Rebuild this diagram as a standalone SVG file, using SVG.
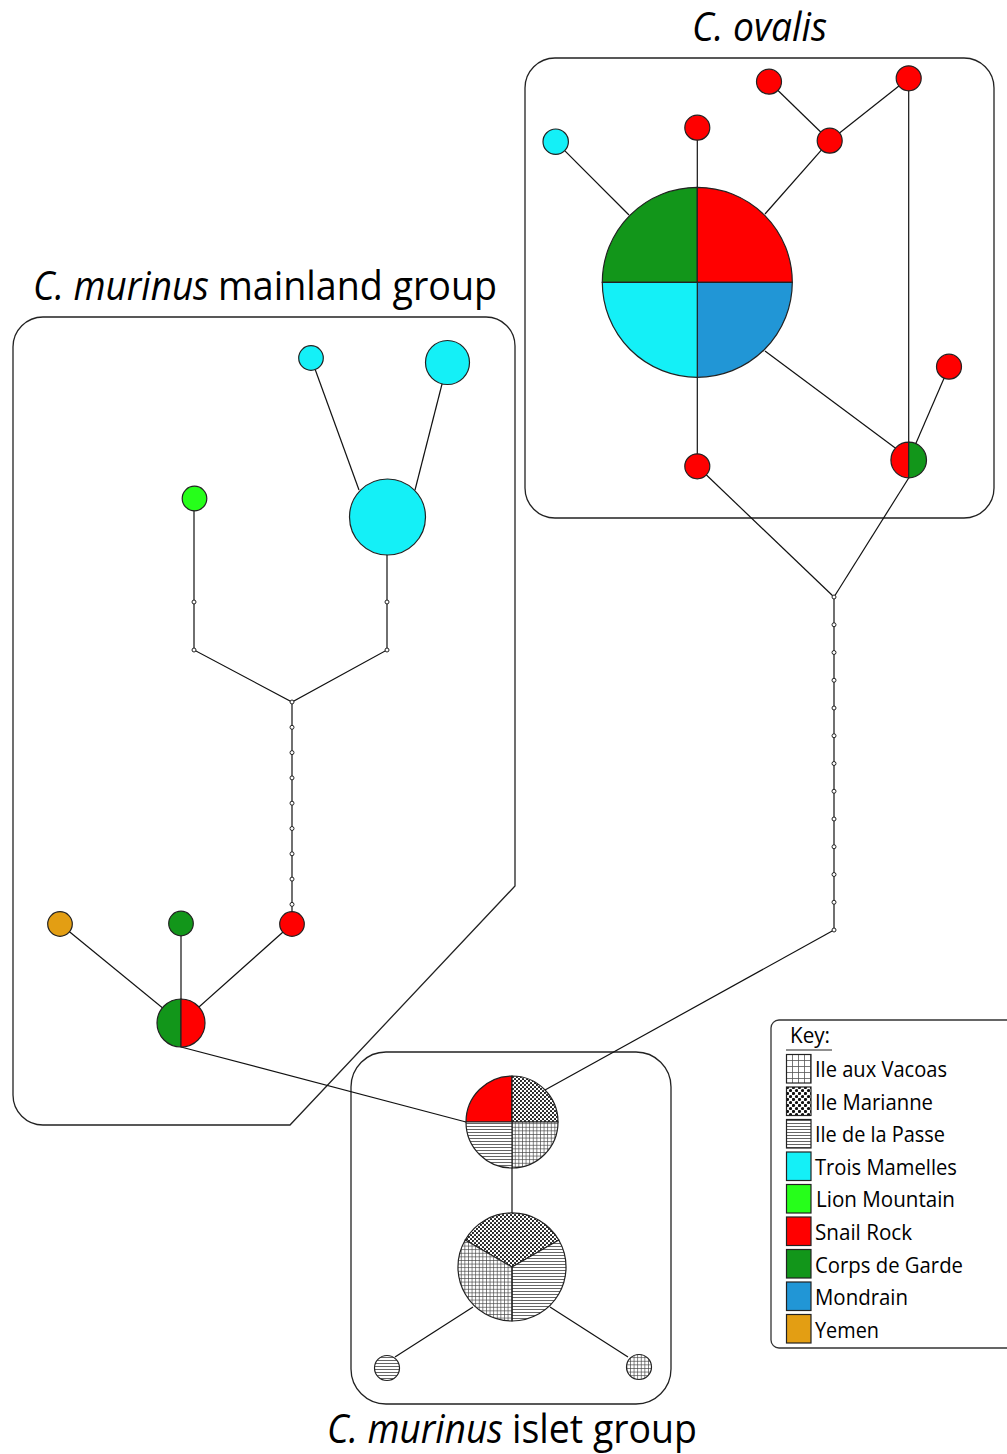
<svg xmlns="http://www.w3.org/2000/svg" width="1007" height="1454" viewBox="0 0 1007 1454">
  <style>
    .frame { fill: none; stroke: #222; stroke-width: 1.3; }
    .link { stroke: #111; stroke-width: 1.2; fill: none; }
    .node { stroke: #222; stroke-width: 1.2; }
    .med { fill: #fff; stroke: #222; stroke-width: 1; }
    .title { font-family: "Open Sans", "Noto Sans", "DejaVu Sans", sans-serif; font-size: 40px; fill: #000; }
    .it { font-style: italic; }
    .key { font-family: "Open Sans", "Noto Sans", "DejaVu Sans", sans-serif; font-size: 22px; fill: #000; }
    .sw { stroke: #222; stroke-width: 1.2; }
    .cyan { fill: #14F0F7; }
    .lime { fill: #26FF1A; }
    .red { fill: #FF0000; }
    .green { fill: #12961A; }
    .blue { fill: #2196D6; }
    .amber { fill: #E39E13; }
  </style>
  <defs>
    <!-- Ile aux Vacoas: fine grid -->
    <pattern id="grid" width="3.6" height="3.6" patternUnits="userSpaceOnUse">
      <rect width="3.6" height="3.6" fill="#fff"/>
      <path d="M0 0.4H3.6M0.4 0V3.6" stroke="#444" stroke-width="0.7"/>
    </pattern>
    <pattern id="gridKey" width="6" height="6" patternUnits="userSpaceOnUse" x="786" y="1054">
      <rect width="6" height="6" fill="#fff"/>
      <path d="M0 0.5H6M0.5 0V6" stroke="#555" stroke-width="0.8"/>
    </pattern>
    <!-- Ile Marianne: staggered dots -->
    <pattern id="dots" width="4" height="4" patternUnits="userSpaceOnUse">
      <rect width="4" height="4" fill="#fff"/>
      <circle cx="1" cy="1" r="1.05" fill="#111"/>
      <circle cx="3" cy="3" r="1.05" fill="#111"/>
    </pattern>
    <pattern id="dotsKey" width="6" height="6" patternUnits="userSpaceOnUse" x="786" y="1086">
      <rect width="6" height="6" fill="#fff"/>
      <circle cx="1.5" cy="1.5" r="1.6" fill="#111"/>
      <circle cx="4.5" cy="4.5" r="1.6" fill="#111"/>
    </pattern>
    <!-- Ile de la Passe: horizontal hatching -->
    <pattern id="lines" width="4" height="3" patternUnits="userSpaceOnUse">
      <rect width="4" height="3" fill="#fff"/>
      <path d="M0 1.5H4" stroke="#555" stroke-width="0.9"/>
    </pattern>
  </defs>

  <!-- group frames -->
  <g id="frames">
    <rect class="frame" x="525" y="58" width="469" height="460" rx="30"/>
    <path class="frame" d="M43 317H486A29 29 0 0 1 515 346V886L290 1125H43A30 30 0 0 1 13 1095V347A30 30 0 0 1 43 317Z"/>
    <rect class="frame" x="351" y="1052" width="320" height="352" rx="35"/>
  </g>

  <!-- titles -->
  <g id="titles">
    <text class="title it" x="692" y="41" textLength="135" lengthAdjust="spacingAndGlyphs">C. ovalis</text>
    <text class="title it" x="33" y="300" textLength="176" lengthAdjust="spacingAndGlyphs">C. murinus</text>
    <text class="title" x="218" y="300" textLength="279" lengthAdjust="spacingAndGlyphs">mainland group</text>
    <text class="title it" x="327" y="1443" textLength="176" lengthAdjust="spacingAndGlyphs">C. murinus</text>
    <text class="title" x="512" y="1443" textLength="185" lengthAdjust="spacingAndGlyphs">islet group</text>
  </g>

  <!-- connectors -->
  <g id="connectors">
    <!-- C. ovalis -->
    <line class="link" x1="555.7" y1="141.7" x2="629" y2="215"/>
    <line class="link" x1="697.3" y1="127.7" x2="697.3" y2="190"/>
    <line class="link" x1="769" y1="81.7" x2="829.7" y2="140.7"/>
    <line class="link" x1="908.7" y1="78.3" x2="829.7" y2="140.7"/>
    <line class="link" x1="829.7" y1="140.7" x2="765" y2="214"/>
    <line class="link" x1="908.7" y1="78.3" x2="908.7" y2="460"/>
    <line class="link" x1="765" y1="351" x2="908.7" y2="458"/>
    <line class="link" x1="949" y1="366.7" x2="908.7" y2="460"/>
    <line class="link" x1="697.3" y1="377" x2="697.3" y2="466.3"/>
    <line class="link" x1="697.3" y1="466.3" x2="834" y2="597"/>
    <line class="link" x1="908.7" y1="478" x2="834" y2="597"/>
    <line class="link" x1="834" y1="597" x2="834" y2="930"/>
    <line class="link" x1="834" y1="930" x2="545" y2="1090"/>
    <!-- mainland -->
    <line class="link" x1="311" y1="358" x2="359" y2="490"/>
    <line class="link" x1="447.5" y1="362.5" x2="415" y2="490"/>
    <polyline class="link" points="194,498 194,650 292,702 387,650 387,517"/>
    <line class="link" x1="292" y1="702" x2="292" y2="924"/>
    <line class="link" x1="60" y1="924" x2="181" y2="1023"/>
    <line class="link" x1="181" y1="923" x2="181" y2="1023"/>
    <line class="link" x1="292" y1="924" x2="181" y2="1023"/>
    <line class="link" x1="181" y1="1047" x2="466" y2="1122"/>
    <!-- islet -->
    <line class="link" x1="512" y1="1122" x2="512" y2="1267"/>
    <line class="link" x1="395" y1="1357" x2="473" y2="1307"/>
    <line class="link" x1="550" y1="1307" x2="628" y2="1357"/>
  </g>

  <!-- inferred (unsampled) haplotypes along the branches -->
  <g id="median-vectors">
    <circle class="med" cx="194" cy="602" r="2"/>
    <circle class="med" cx="194" cy="650" r="2"/>
    <circle class="med" cx="387" cy="602" r="2"/>
    <circle class="med" cx="387" cy="650" r="2"/>
    <circle class="med" cx="292" cy="702" r="2"/>
    <circle class="med" cx="292" cy="727.3" r="2"/>
    <circle class="med" cx="292" cy="752.6" r="2"/>
    <circle class="med" cx="292" cy="777.9" r="2"/>
    <circle class="med" cx="292" cy="803.2" r="2"/>
    <circle class="med" cx="292" cy="828.5" r="2"/>
    <circle class="med" cx="292" cy="853.8" r="2"/>
    <circle class="med" cx="292" cy="879.1" r="2"/>
    <circle class="med" cx="292" cy="904.4" r="2"/>
    <circle class="med" cx="834" cy="597" r="2"/>
    <circle class="med" cx="834" cy="624.75" r="2"/>
    <circle class="med" cx="834" cy="652.5" r="2"/>
    <circle class="med" cx="834" cy="680.25" r="2"/>
    <circle class="med" cx="834" cy="708" r="2"/>
    <circle class="med" cx="834" cy="735.75" r="2"/>
    <circle class="med" cx="834" cy="763.5" r="2"/>
    <circle class="med" cx="834" cy="791.25" r="2"/>
    <circle class="med" cx="834" cy="819" r="2"/>
    <circle class="med" cx="834" cy="846.75" r="2"/>
    <circle class="med" cx="834" cy="874.5" r="2"/>
    <circle class="med" cx="834" cy="902.25" r="2"/>
    <circle class="med" cx="834" cy="930" r="2"/>
  </g>

  <!-- C. ovalis haplotypes -->
  <g id="ov-main" class="node">
    <path class="green" d="M697.3 282.3H602.3A95 95 0 0 1 697.3 187.3Z"/>
    <path class="red" d="M697.3 282.3V187.3A95 95 0 0 1 792.3 282.3Z"/>
    <path class="blue" d="M697.3 282.3H792.3A95 95 0 0 1 697.3 377.3Z"/>
    <path class="cyan" d="M697.3 282.3V377.3A95 95 0 0 1 602.3 282.3Z"/>
  </g>
  <circle id="ov-cyan" class="node cyan" cx="555.7" cy="141.7" r="12.7"/>
  <circle id="ov-red-top" class="node red" cx="697.3" cy="127.7" r="12.5"/>
  <circle id="ov-red-a" class="node red" cx="769" cy="81.7" r="12.5"/>
  <circle id="ov-red-b" class="node red" cx="908.7" cy="78.3" r="12.5"/>
  <circle id="ov-red-c" class="node red" cx="829.7" cy="140.7" r="12.5"/>
  <circle id="ov-red-bottom" class="node red" cx="697.3" cy="466.3" r="12.5"/>
  <circle id="ov-red-right" class="node red" cx="949" cy="366.7" r="12.5"/>
  <g id="ov-mixed" class="node">
    <path class="red" d="M908.7 442.2V477.8A17.8 17.8 0 0 1 908.7 442.2Z"/>
    <path class="green" d="M908.7 442.2A17.8 17.8 0 0 1 908.7 477.8Z"/>
  </g>

  <!-- C. murinus mainland haplotypes -->
  <circle id="ml-cyan-s" class="node cyan" cx="311" cy="358" r="12.3"/>
  <circle id="ml-cyan-m" class="node cyan" cx="447.5" cy="362.5" r="22"/>
  <circle id="ml-cyan-l" class="node cyan" cx="387.5" cy="517" r="38"/>
  <circle id="ml-lime" class="node lime" cx="194.5" cy="498.5" r="12.3"/>
  <circle id="ml-amber" class="node amber" cx="60" cy="924" r="12.3"/>
  <circle id="ml-green" class="node green" cx="181" cy="923.5" r="12.3"/>
  <circle id="ml-red" class="node red" cx="292" cy="924" r="12.3"/>
  <g id="ml-mixed" class="node">
    <path class="green" d="M181 999V1047A24 24 0 0 1 181 999Z"/>
    <path class="red" d="M181 999A24 24 0 0 1 181 1047Z"/>
  </g>

  <!-- C. murinus islet haplotypes -->
  <g id="is-top" class="node">
    <path class="red" d="M512 1122H466A46 46 0 0 1 512 1076Z"/>
    <path fill="url(#dots)" d="M512 1122V1076A46 46 0 0 1 558 1122Z"/>
    <path fill="url(#grid)" d="M512 1122H558A46 46 0 0 1 512 1168Z"/>
    <path fill="url(#lines)" d="M512 1122V1168A46 46 0 0 1 466 1122Z"/>
  </g>
  <g id="is-main" class="node">
    <path fill="url(#dots)" d="M512 1267L465.2 1240A54 54 0 0 1 558.8 1240Z"/>
    <path fill="url(#lines)" d="M512 1267L558.8 1240A54 54 0 0 1 512 1321Z"/>
    <path fill="url(#grid)" d="M512 1267V1321A54 54 0 0 1 465.2 1240Z"/>
  </g>
  <circle id="is-passe" class="node" fill="url(#lines)" cx="387" cy="1368" r="12.5"/>
  <circle id="is-vacoas" class="node" fill="url(#grid)" cx="639" cy="1367" r="12.5"/>

  <!-- legend -->
  <g id="legend">
    <rect x="771" y="1020" width="260" height="328" rx="8" fill="#fff" stroke="#333" stroke-width="1.3"/>
    <text class="key" x="790" y="1043" textLength="40" lengthAdjust="spacingAndGlyphs">Key:</text>
    <line x1="786" y1="1050" x2="832" y2="1050" stroke="#222" stroke-width="1.2"/>
    <rect class="sw" x="786.5" y="1054.5" width="24.5" height="28.5" fill="url(#gridKey)"/>
    <rect class="sw" x="786.5" y="1087" width="24.5" height="28.5" fill="url(#dotsKey)"/>
    <rect class="sw" x="786.5" y="1119.5" width="24.5" height="28.5" fill="url(#lines)"/>
    <rect class="sw cyan" x="786.5" y="1152" width="24.5" height="28.5"/>
    <rect class="sw lime" x="786.5" y="1184.5" width="24.5" height="28.5"/>
    <rect class="sw red" x="786.5" y="1217" width="24.5" height="28.5"/>
    <rect class="sw green" x="786.5" y="1249.5" width="24.5" height="28.5"/>
    <rect class="sw blue" x="786.5" y="1282" width="24.5" height="28.5"/>
    <rect class="sw amber" x="786.5" y="1314.5" width="24.5" height="28.5"/>
    <text class="key" x="815" y="1077" textLength="132" lengthAdjust="spacingAndGlyphs">Ile aux Vacoas</text>
    <text class="key" x="815" y="1109.6" textLength="118" lengthAdjust="spacingAndGlyphs">Ile Marianne</text>
    <text class="key" x="815" y="1142.2" textLength="130" lengthAdjust="spacingAndGlyphs">Ile de la Passe</text>
    <text class="key" x="815" y="1174.8" textLength="142" lengthAdjust="spacingAndGlyphs">Trois Mamelles</text>
    <text class="key" x="816" y="1207.4" textLength="139" lengthAdjust="spacingAndGlyphs">Lion Mountain</text>
    <text class="key" x="815" y="1240" textLength="97" lengthAdjust="spacingAndGlyphs">Snail Rock</text>
    <text class="key" x="815" y="1272.6" textLength="148" lengthAdjust="spacingAndGlyphs">Corps de Garde</text>
    <text class="key" x="815" y="1305.2" textLength="93" lengthAdjust="spacingAndGlyphs">Mondrain</text>
    <text class="key" x="815" y="1337.8" textLength="64" lengthAdjust="spacingAndGlyphs">Yemen</text>
  </g>
</svg>
